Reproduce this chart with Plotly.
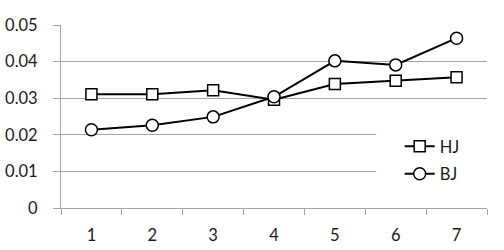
import plotly.graph_objects as go

categories = ["1", "2", "3", "4", "5", "6", "7"]
hj = [0.0311, 0.0311, 0.0322, 0.0296, 0.0339, 0.0348, 0.0357]
bj = [0.0214, 0.0226, 0.0249, 0.0304, 0.0402, 0.0391, 0.0464]
y_ticks = [0, 0.01, 0.02, 0.03, 0.04, 0.05]
y_labels = ["0", "0.01", "0.02", "0.03", "0.04", "0.05"]

FONT = "Lato"
FS = 16.5
TXT = "#1a1a1a"
GRID = "#a6a6a6"

fig = go.Figure()
fig.add_trace(go.Scatter(
    x=categories, y=hj, name="HJ", mode="lines+markers", legendgroup="a",
    line=dict(color="black", width=2),
    marker=dict(symbol="square", size=11, color="white", line=dict(color="black", width=1.5)),
))
fig.add_trace(go.Scatter(
    x=categories, y=bj, name="BJ", mode="lines+markers", legendgroup="b",
    line=dict(color="black", width=2),
    marker=dict(symbol="circle", size=12, color="white", line=dict(color="black", width=1.5)),
))

# white legend panel hiding the gridlines behind the legend (below the data)
fig.add_shape(
    type="rect", xref="x", yref="y",
    x0=4.68, x1=6.5, y0=0.005, y1=0.025,
    fillcolor="white", line=dict(width=0), layer="between",
)

fig.update_layout(
    width=504, height=250,
    margin=dict(l=61, r=17, t=25, b=42, autoexpand=False),
    paper_bgcolor="white", plot_bgcolor="white",
    font=dict(family=FONT, size=FS, color=TXT),
    showlegend=True,
    legend=dict(
        x=0.795, xanchor="left", y=0.262, yanchor="middle",
        bgcolor="rgba(0,0,0,0)", borderwidth=0,
        font=dict(family=FONT, size=FS, color=TXT),
        tracegroupgap=3,
    ),
    xaxis=dict(
        type="category", categoryorder="array", categoryarray=categories,
        range=[-0.5, 6.5],
        showgrid=False, showline=True, linecolor=GRID, linewidth=1,
        ticks="outside", tickson="boundaries", ticklen=6, tickcolor=GRID,
        ticklabelstandoff=12, automargin=False,
        tickfont=dict(family=FONT, size=FS, color=TXT),
        zeroline=False,
    ),
    yaxis=dict(
        range=[0, 0.05], tickvals=y_ticks, ticktext=y_labels,
        showgrid=True, gridcolor=GRID, gridwidth=1,
        showline=True, linecolor=GRID, linewidth=1,
        ticks="outside", ticklen=7, tickcolor=GRID,
        zeroline=False, ticklabelstandoff=12, automargin=False,
        tickfont=dict(family=FONT, size=FS, color=TXT),
    ),
)

fig.write_html("out.html")
